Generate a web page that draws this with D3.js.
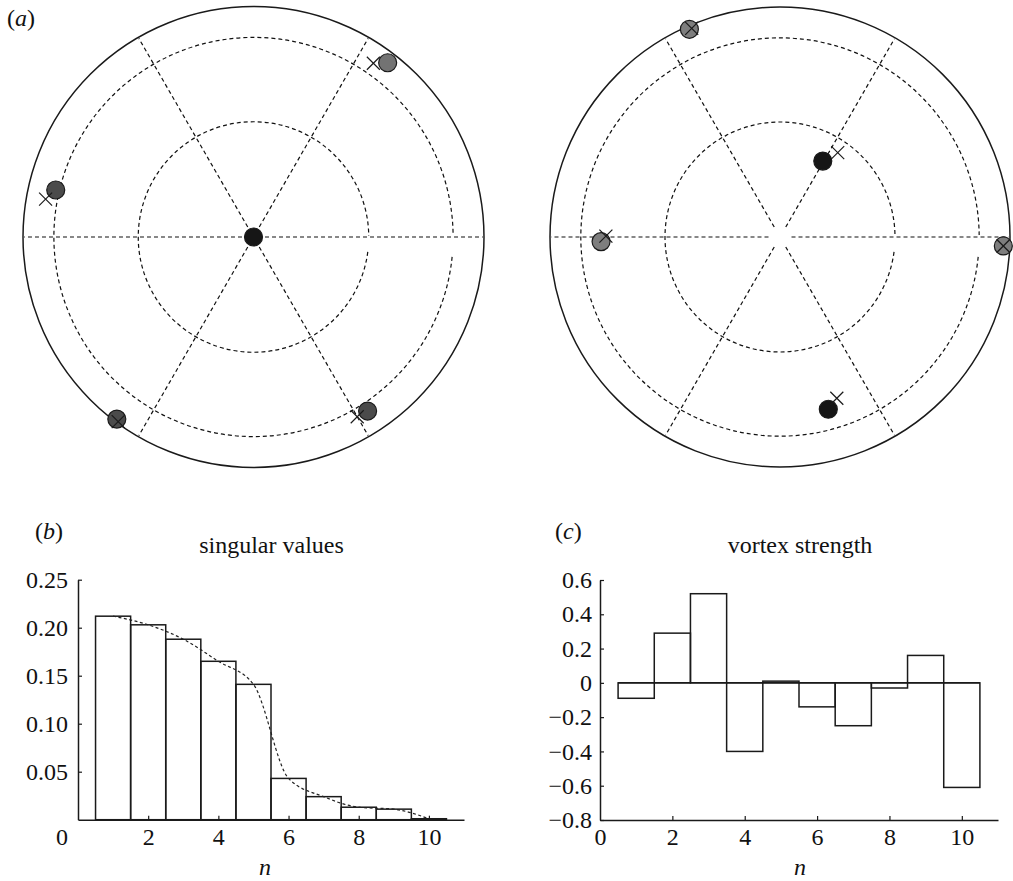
<!DOCTYPE html>
<html>
<head>
<meta charset="utf-8">
<script src="https://cdn.jsdelivr.net/npm/d3@7"></script>
<style>
  html, body { margin: 0; padding: 0; background: #fff; }
  svg { display: block; }
  text { font-family: "Liberation Serif", "Times New Roman", serif; fill: #111; }
</style>
</head>
<body>
<svg id="chart" width="1013" height="881"></svg>
<script>
// ---------------- data ----------------
// panel (a) left polar plot, unit-circle coordinates
const leftDotX   = [0, 0.582, -0.858, -0.593, 0.495];
const leftDotY   = [0, 0.756, 0.204, -0.790, -0.755];
const leftDotKind = ["black", "light", "dark", "dark", "dark"];
const leftCrossX = [0.520, -0.902, -0.587, 0.450];
const leftCrossY = [0.754, 0.164, -0.801, -0.780];

// panel (a) right polar plot
const rightDotX   = [-0.394, 0.186, -0.778, 0.971, 0.210];
const rightDotY   = [0.903, 0.330, -0.020, -0.039, -0.749];
const rightDotKind = ["gray", "black", "gray", "gray", "black"];
const rightCrossX = [-0.384, 0.251, -0.757, 0.971, 0.247];
const rightCrossY = [0.907, 0.367, 0.004, -0.039, -0.701];

const gridRadii = [0.5, 0.866];
const spokeAngles = [0, 60, 120, 180, 240, 300];

// panel (b) singular values
const modeN = [1, 2, 3, 4, 5, 6, 7, 8, 9, 10];
const singularValues = [0.212, 0.203, 0.188, 0.165, 0.141, 0.043, 0.024, 0.013, 0.011, 0.001];
const singularTicksY = [0.05, 0.10, 0.15, 0.20, 0.25];
const nTicks = [2, 4, 6, 8, 10];

// panel (c) vortex strength
const vortexStrength = [-0.09, 0.29, 0.52, -0.40, 0.01, -0.14, -0.25, -0.03, 0.16, -0.61];
const vortexTicksY = [-0.8, -0.6, -0.4, -0.2, 0, 0.2, 0.4, 0.6];
const nTicksC = [0, 2, 4, 6, 8, 10];

// ---------------- drawing ----------------
const svg = d3.select("#chart");
const INK = "#1a1a1a";
const kindColor = d3.scaleOrdinal()
  .domain(["black", "dark", "light", "gray"])
  .range(["#161616", "#4b4b4b", "#737373", "#7e7e7e"]);

function polarPanel(cx, cy, R, dotX, dotY, dotKind, crossX, crossY) {
  const g = svg.append("g");
  const sx = d3.scaleLinear().domain([-1, 1]).range([cx - R, cx + R]);
  const sy = d3.scaleLinear().domain([-1, 1]).range([cy + R, cy - R]);
  const sr = d3.scaleLinear().domain([0, 1]).range([0, R]);

  // dashed grid circles with a small gap (label room) just below the 0° spoke
  gridRadii.forEach((r, i) => {
    const p = d3.path();
    const gap = i === 0 ? 0.13 : 0.10;
    p.arc(sx(0), sy(0), sr(r), gap, Math.PI * 2 - 0.01);
    g.append("path").attr("d", p.toString())
      .attr("fill", "none").attr("stroke", "#111").attr("stroke-width", 1.2)
      .attr("stroke-dasharray", "4,3");
  });

  // spokes
  spokeAngles.forEach(a => {
    const t = a * Math.PI / 180;
    g.append("line")
      .attr("x1", sx(0.05 * Math.cos(t))).attr("y1", sy(0.05 * Math.sin(t)))
      .attr("x2", sx(0.995 * Math.cos(t))).attr("y2", sy(0.995 * Math.sin(t)))
      .attr("stroke", "#111").attr("stroke-width", 1.2).attr("stroke-dasharray", "4,3");
  });

  // outer boundary
  g.append("circle").attr("cx", sx(0)).attr("cy", sy(0)).attr("r", sr(1))
    .attr("fill", "none").attr("stroke", INK).attr("stroke-width", 1.5);

  // dots
  g.selectAll(".dot").data(dotX.map((x, i) => ({x, y: dotY[i], k: dotKind[i]})))
    .enter().append("circle")
    .attr("cx", d => sx(d.x)).attr("cy", d => sy(d.y)).attr("r", 9)
    .attr("fill", d => kindColor(d.k)).attr("stroke", INK).attr("stroke-width", 1.2);

  // crosses
  const h = 6.5;
  const cr = g.selectAll(".cross").data(crossX.map((x, i) => ({x, y: crossY[i]})))
    .enter().append("g");
  cr.append("line")
    .attr("x1", d => sx(d.x) - h).attr("y1", d => sy(d.y) - h)
    .attr("x2", d => sx(d.x) + h).attr("y2", d => sy(d.y) + h)
    .attr("stroke", INK).attr("stroke-width", 1.2);
  cr.append("line")
    .attr("x1", d => sx(d.x) - h).attr("y1", d => sy(d.y) + h)
    .attr("x2", d => sx(d.x) + h).attr("y2", d => sy(d.y) - h)
    .attr("stroke", INK).attr("stroke-width", 1.2);
}

polarPanel(253.5, 237, 230.5, leftDotX, leftDotY, leftDotKind, leftCrossX, leftCrossY);
polarPanel(780, 237, 230, rightDotX, rightDotY, rightDotKind, rightCrossX, rightCrossY);

// panel labels
function panelLabel(x, y, letter) {
  const t = svg.append("text").attr("x", x).attr("y", y).attr("font-size", 24);
  t.append("tspan").text("(");
  t.append("tspan").attr("font-style", "italic").text(letter);
  t.append("tspan").text(")");
}
panelLabel(7, 26, "a");
panelLabel(35, 539, "b");
panelLabel(555, 539, "c");

function styleAxis(sel) {
  sel.select(".domain").attr("stroke", INK).attr("stroke-width", 1.5);
  sel.selectAll(".tick line").attr("stroke", INK).attr("stroke-width", 1.2);
  sel.selectAll(".tick text").attr("font-size", 24)
    .attr("font-family", "'Liberation Serif', 'Times New Roman', serif").attr("fill", "#111");
}

// ---------- panel (b) ----------
{
  const x = d3.scaleLinear().domain([0, 11]).range([78, 464]);
  const y = d3.scaleLinear().domain([0, 0.25]).range([819.7, 579.7]);
  const g = svg.append("g");

  g.selectAll("rect").data(modeN.map((n, i) => ({n, v: singularValues[i]})))
    .enter().append("rect")
    .attr("x", d => x(d.n - 0.5)).attr("width", d => x(d.n + 0.5) - x(d.n - 0.5))
    .attr("y", d => y(d.v)).attr("height", d => y(0) - y(d.v))
    .attr("fill", "none").attr("stroke", INK).attr("stroke-width", 1.5);

  const line = d3.line().x(d => x(d.n)).y(d => y(d.v)).curve(d3.curveMonotoneX);
  g.append("path").datum(modeN.map((n, i) => ({n, v: singularValues[i]})))
    .attr("d", line).attr("fill", "none").attr("stroke", "#222")
    .attr("stroke-width", 1.2).attr("stroke-dasharray", "3,2.5");

  const xa = g.append("g").attr("transform", `translate(0,${y(0)})`)
    .call(d3.axisBottom(x).tickValues(nTicks).tickFormat(d3.format("d"))
      .tickSizeInner(-4).tickSizeOuter(0).tickPadding(8));
  styleAxis(xa);
  const ya = g.append("g").attr("transform", `translate(${x(0)},0)`)
    .call(d3.axisLeft(y).tickValues(singularTicksY).tickFormat(d3.format(".2f"))
      .tickSizeInner(-4).tickSizeOuter(0).tickPadding(10));
  styleAxis(ya);

  // origin label "0"
  g.append("text").attr("x", x(0) - 16).attr("y", y(0) + 8).attr("dy", "0.71em")
    .attr("text-anchor", "middle").attr("font-size", 24).text("0");

  g.append("text").attr("x", 271.5).attr("y", 553).attr("text-anchor", "middle")
    .attr("font-size", 24).text("singular values");
  g.append("text").attr("x", 265).attr("y", 875).attr("text-anchor", "middle")
    .attr("font-size", 24).attr("font-style", "italic").text("n");
}

// ---------- panel (c) ----------
{
  const x = d3.scaleLinear().domain([0, 11]).range([600, 998]);
  const y = d3.scaleLinear().domain([-0.8, 0.6]).range([820, 580]);
  const g = svg.append("g");

  g.selectAll("rect").data(modeN.map((n, i) => ({n, v: vortexStrength[i]})))
    .enter().append("rect")
    .attr("x", d => x(d.n - 0.5)).attr("width", d => x(d.n + 0.5) - x(d.n - 0.5))
    .attr("y", d => y(Math.max(0, d.v))).attr("height", d => Math.abs(y(d.v) - y(0)))
    .attr("fill", "none").attr("stroke", INK).attr("stroke-width", 1.5);

  g.append("line")
    .attr("x1", x(modeN[0] - 0.5)).attr("x2", x(modeN[modeN.length - 1] + 0.5))
    .attr("y1", y(0)).attr("y2", y(0))
    .attr("stroke", INK).attr("stroke-width", 1.5);

  const xa = g.append("g").attr("transform", `translate(0,${y(-0.8)})`)
    .call(d3.axisBottom(x).tickValues(nTicksC).tickFormat(d3.format("d"))
      .tickSizeInner(-4).tickSizeOuter(0).tickPadding(8));
  styleAxis(xa);
  xa.selectAll(".tick").filter(d => d === 0).select("line").remove();
  const ya = g.append("g").attr("transform", `translate(${x(0)},0)`)
    .call(d3.axisLeft(y).tickValues(vortexTicksY)
      .tickFormat(d => d === 0 ? "0" : d3.format(".1f")(d))
      .tickSizeInner(-4).tickSizeOuter(0).tickPadding(8));
  styleAxis(ya);

  g.append("text").attr("x", 800).attr("y", 553).attr("text-anchor", "middle")
    .attr("font-size", 24).text("vortex strength");
  g.append("text").attr("x", 800).attr("y", 875).attr("text-anchor", "middle")
    .attr("font-size", 24).attr("font-style", "italic").text("n");
}
</script>
</body>
</html>
